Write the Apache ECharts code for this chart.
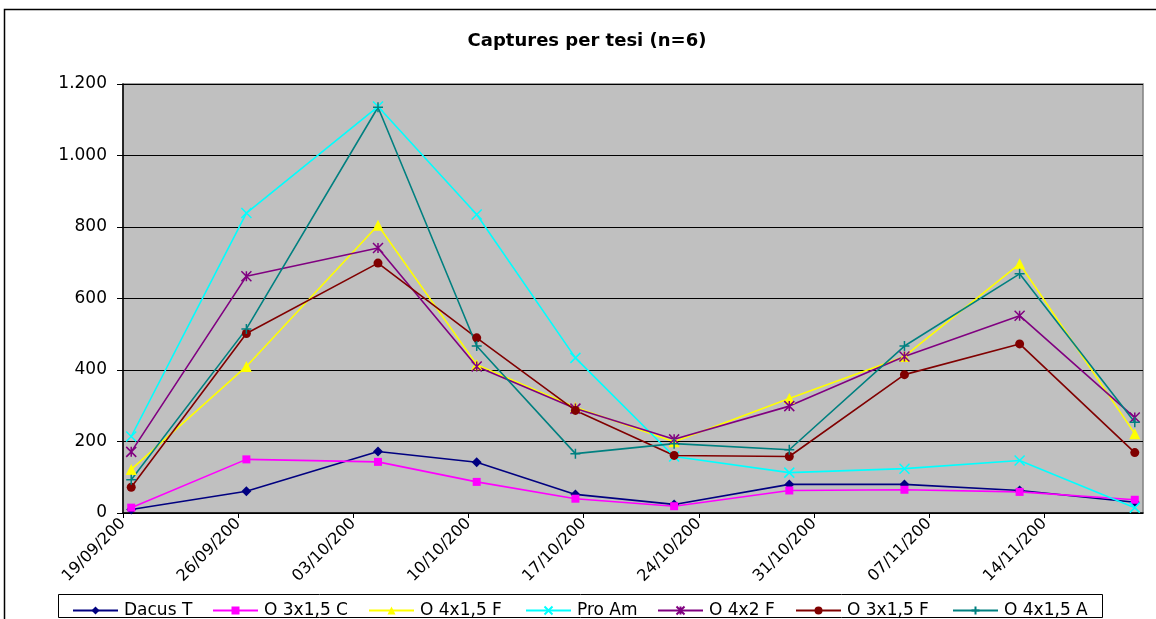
<!DOCTYPE html>
<html>
<head>
<meta charset="utf-8">
<script src="https://cdn.jsdelivr.net/npm/echarts@6/dist/echarts.min.js"></script>
<style>
  html, body { margin: 0; padding: 0; background: #fff; }
  #chart { width: 1156px; height: 619px; }
</style>
</head>
<body>
<div id="chart"></div>
<script>
// sampling dates (year hidden in the source, labels are cut off)
const dates = ['2007-09-19', '2007-09-26', '2007-10-04', '2007-10-10', '2007-10-16',
  '2007-10-22', '2007-10-29', '2007-11-05', '2007-11-12', '2007-11-19']

const dacusT = [10, 61, 172, 142, 52, 24, 80, 80, 63, 30]
const o3x15C = [15, 150, 143, 87, 40, 19, 63, 65, 59, 37]
const o4x15F = [122, 410, 805, 415, 296, 199, 320, 438, 697, 222]
const proAm = [214, 839, 1137, 835, 434, 158, 113, 124, 147, 15]
const o4x2F = [171, 662, 741, 410, 292, 206, 299, 438, 552, 267]
const o3x15F = [72, 502, 699, 490, 287, 161, 158, 387, 473, 169]
const o4x15A = [93, 515, 1135, 467, 166, 194, 177, 467, 669, 254]

const yTicks = [0, 200, 400, 600, 800, 1000, 1200]

const DAY = 86400000
const start = Date.parse(dates[0] + 'T00:00:00Z')
// excel date axis puts each point in the middle of its day
const dayPos = dates.map(d => (Date.parse(d + 'T00:00:00Z') - start) / DAY + 0.5)

const pad = n => (n < 10 ? '0' : '') + n
const dayLabel = v => {
  const d = new Date(start + v * DAY)
  return pad(d.getUTCDate()) + '/' + pad(d.getUTCMonth() + 1) + '/200'
}

const FONT = 'DejaVu Sans'

// symbols drawn as strokes
const crossX = 'path://M0,0L10,10M10,0L0,10'
const star = 'path://M0,0L10,10M10,0L0,10M5,0L5,10'
const plus = 'path://M5,0L5,10M0,5L10,5'

const seriesDefs = [
  { name: 'Dacus T', data: dacusT, color: '#000080', symbol: 'diamond', size: 10 },
  { name: 'O 3x1,5 C', data: o3x15C, color: '#FF00FF', symbol: 'rect', size: 8 },
  { name: 'O 4x1,5 F', data: o4x15F, color: '#FFFF00', symbol: 'triangle', size: 11 },
  { name: 'Pro Am', data: proAm, color: '#00FFFF', symbol: crossX, size: 10, stroke: true },
  { name: 'O 4x2 F', data: o4x2F, color: '#800080', symbol: star, size: 10, stroke: true },
  { name: 'O 3x1,5 F', data: o3x15F, color: '#800000', symbol: 'circle', size: 9 },
  { name: 'O 4x1,5 A', data: o4x15A, color: '#008080', symbol: plus, size: 10, stroke: true }
]

const legendLeft = [67, 207, 363, 520, 652, 790, 947]

const chart = echarts.init(document.getElementById('chart'))

const option = {
  animation: false,
  backgroundColor: '#fff',
  textStyle: { fontFamily: FONT },
  title: {
    text: 'Captures per tesi (n=6)',
    left: 582,
    top: 27,
    textAlign: 'center',
    textStyle: { fontFamily: FONT, fontSize: 18, fontWeight: 'bold', color: '#000' }
  },
  graphic: [
    {
      type: 'rect', z: -10, silent: true,
      shape: { x: 4.5, y: 9.5, width: 1200, height: 700 },
      style: { fill: 'none', stroke: '#000', lineWidth: 1.5 }
    },
    {
      type: 'rect', z: -1, silent: true,
      shape: { x: 58.5, y: 594.5, width: 1044, height: 23 },
      style: { fill: '#fff', stroke: '#000', lineWidth: 1 }
    }
  ],
  legend: seriesDefs.map((s, i) => ({
    data: [s.name],
    left: legendLeft[i],
    top: 597,
    itemWidth: 45,
    itemHeight: 10,
    itemGap: 0,
    textStyle: { fontFamily: FONT, fontSize: 17, color: '#000', padding: [0, 0, 0, 1] },
    selectedMode: false
  })),
  grid: {
    left: 123,
    right: 13,
    top: 84,
    bottom: 106,
    show: true,
    backgroundColor: '#C0C0C0',
    borderColor: '#808080',
    borderWidth: 1.5
  },
  xAxis: {
    type: 'value',
    min: 0,
    max: 62,
    interval: 7,
    axisLine: { show: true, onZero: false, lineStyle: { color: '#000', width: 1.5 } },
    axisTick: { show: true, length: 5, lineStyle: { color: '#000' } },
    splitLine: { show: false },
    axisLabel: {
      rotate: 45,
      margin: 8,
      fontFamily: FONT,
      fontSize: 16,
      color: '#000',
      showMaxLabel: false,
      formatter: v => dayLabel(v)
    }
  },
  yAxis: {
    type: 'value',
    min: yTicks[0],
    max: yTicks[yTicks.length - 1],
    interval: 200,
    axisLine: { show: true, lineStyle: { color: '#000', width: 1.5 } },
    axisTick: { show: true, length: 6, lineStyle: { color: '#000' } },
    splitLine: { show: true, lineStyle: { color: '#000', width: 1.2 } },
    axisLabel: {
      margin: 16,
      fontFamily: FONT,
      fontSize: 17,
      color: '#000',
      formatter: v => v >= 1000 ? Math.floor(v / 1000) + '.' + String(v % 1000).padStart(3, '0') : String(v)
    }
  },
  series: seriesDefs.map(s => ({
    name: s.name,
    type: 'line',
    data: s.data.map((v, i) => [dayPos[i], v]),
    symbol: s.symbol,
    symbolSize: s.size,
    showSymbol: true,
    clip: false,
    color: s.color,
    lineStyle: { color: s.color, width: 1.6 },
    itemStyle: s.stroke
      ? { color: s.color, borderColor: s.color, borderWidth: 1.5 }
      : { color: s.color, borderWidth: 0 }
  }))
}

chart.setOption(option)
</script>
</body>
</html>
